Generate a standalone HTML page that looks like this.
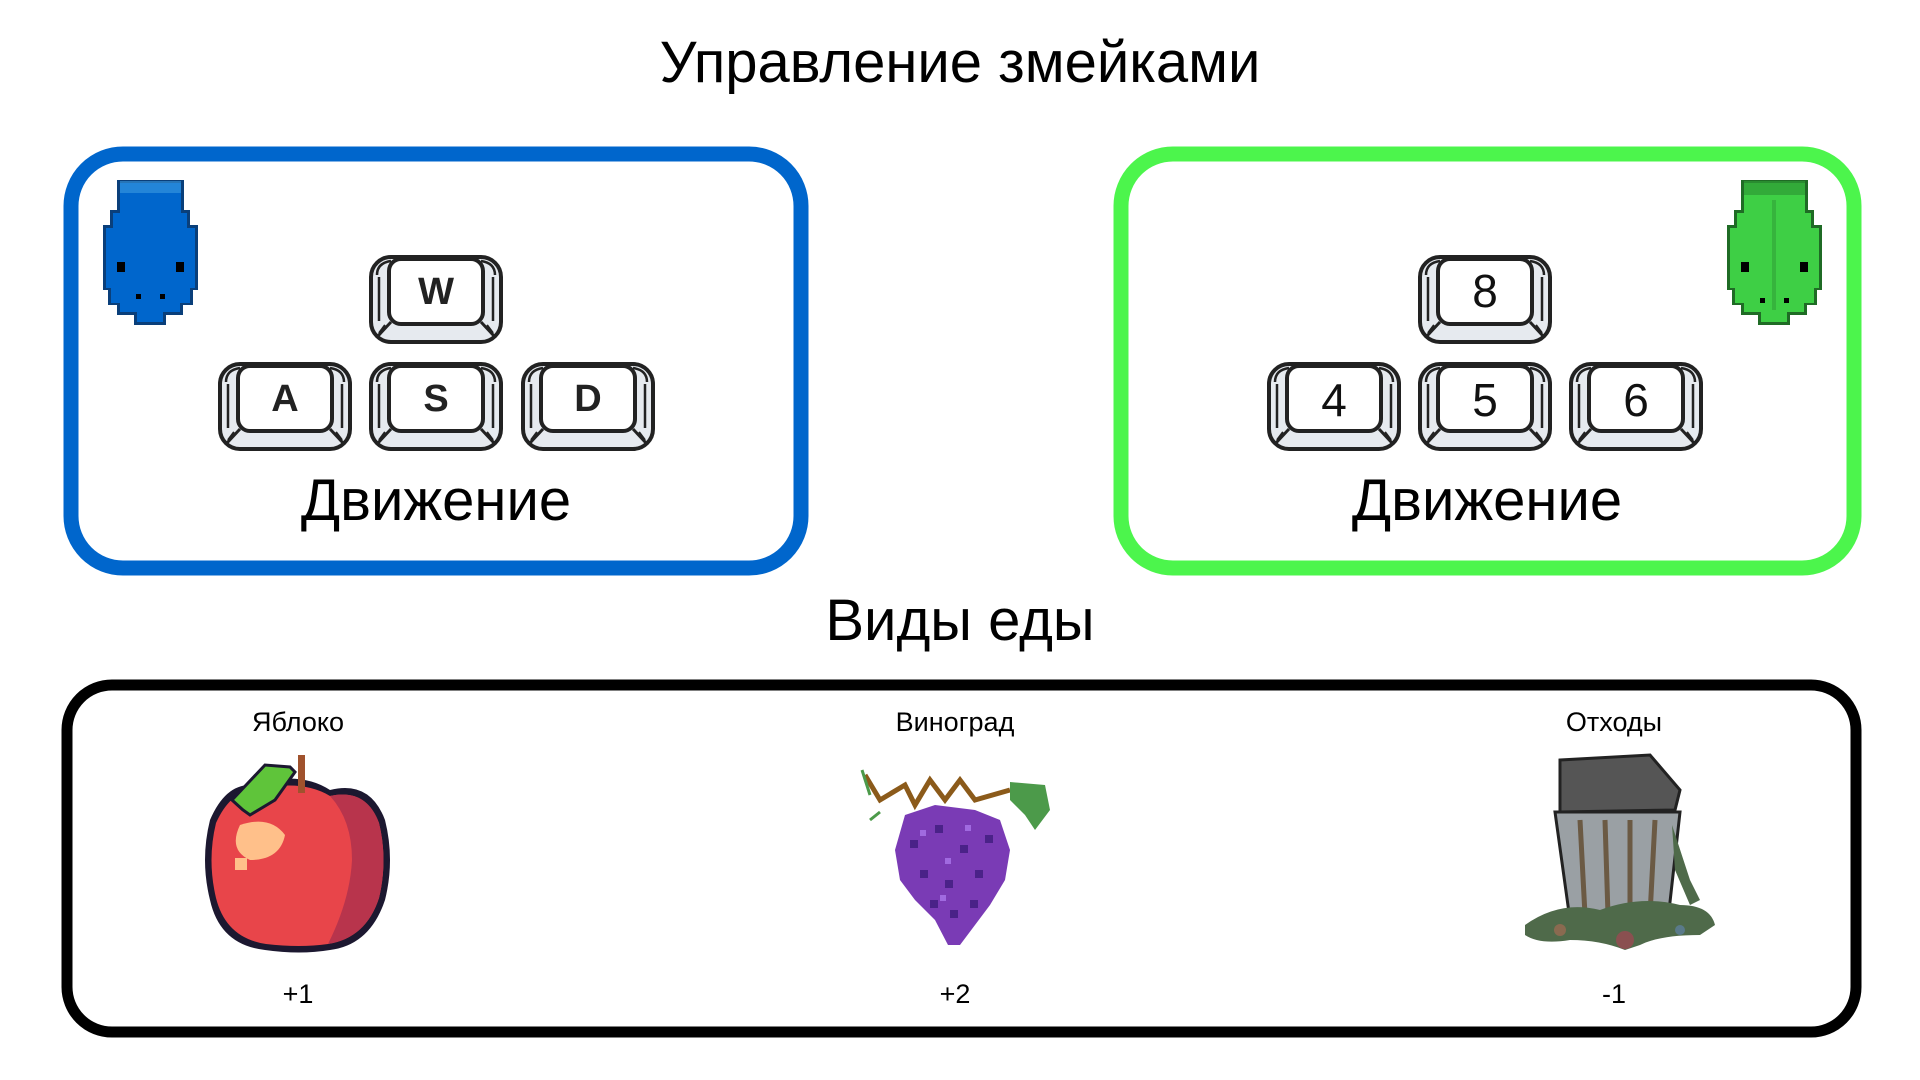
<!DOCTYPE html>
<html><head><meta charset="utf-8"><style>
html,body{margin:0;padding:0;background:#fff;width:1920px;height:1080px;overflow:hidden}
svg{display:block}
text{font-family:"Liberation Sans",Arial,sans-serif}
</style></head><body>
<svg width="1920" height="1080" viewBox="0 0 1920 1080" xmlns="http://www.w3.org/2000/svg">
<defs>
<g id="key">
<rect x="2" y="2" width="130" height="85" rx="20" fill="#e6eaef" stroke="#222" stroke-width="4"/>
<path d="M8 20 Q8 8 22 6" fill="none" stroke="#222" stroke-width="2.5"/>
<path d="M126 20 Q126 8 112 6" fill="none" stroke="#222" stroke-width="2.5"/>
<line x1="10" y1="66" x2="10" y2="22" stroke="#222" stroke-width="2.5"/>
<line x1="124" y1="66" x2="124" y2="22" stroke="#222" stroke-width="2.5"/>
<rect x="20" y="4" width="94" height="65" rx="12" fill="#fff" stroke="#222" stroke-width="4"/>
<line x1="22" y1="67" x2="8" y2="82" stroke="#222" stroke-width="3"/>
<line x1="112" y1="67" x2="126" y2="82" stroke="#222" stroke-width="3"/>
<line x1="16" y1="70" x2="10" y2="78" stroke="#222" stroke-width="2"/>
<line x1="118" y1="70" x2="124" y2="78" stroke="#222" stroke-width="2"/>
</g>
<path id="snakeOuter" d="M117 180 H184 V210 H190 V225 H198 V290 H193 V305 H183 V315 H166 V325 H134 V315 H117 V305 H108 V290 H103 V225 H110 V210 H117 Z"/>
<path id="snakeInner" d="M120 183 H181 V213 H187 V228 H195 V288 H190 V303 H180 V312 H163 V322 H137 V312 H120 V303 H111 V288 H106 V228 H113 V213 H120 Z"/>
</defs>

<text x="960" y="82" font-size="58" text-anchor="middle">Управление змейками</text>

<rect x="71" y="154" width="730" height="414" rx="52" fill="#fff" stroke="#0066cc" stroke-width="15"/>
<rect x="1121" y="154" width="733" height="414" rx="52" fill="#fff" stroke="#4cf54c" stroke-width="15"/>

<!-- blue snake -->
<g>
<use href="#snakeOuter" fill="#0a3f7a"/>
<use href="#snakeInner" fill="#0066cc"/>
<rect x="120" y="181" width="61" height="12" fill="#3a9ae0" opacity=".6"/>
<rect x="117" y="262" width="8" height="10" fill="#000"/>
<rect x="176" y="262" width="8" height="10" fill="#000"/>
<rect x="136" y="294" width="5" height="5" fill="#000"/><rect x="160" y="294" width="5" height="5" fill="#000"/>
</g>
<!-- green snake -->
<g transform="translate(1624,0)">
<use href="#snakeOuter" fill="#1f6b25"/>
<use href="#snakeInner" fill="#3ecf45"/>
<rect x="120" y="181" width="61" height="14" fill="#2e9a35" opacity=".7"/>
<rect x="148" y="200" width="4" height="110" fill="#2e9a35" opacity=".5"/>
<rect x="117" y="262" width="8" height="10" fill="#000"/>
<rect x="176" y="262" width="8" height="10" fill="#000"/>
<rect x="136" y="298" width="5" height="5" fill="#000"/><rect x="160" y="298" width="5" height="5" fill="#000"/>
</g>

<use href="#key" x="369" y="255"/>
<use href="#key" x="218" y="362"/>
<use href="#key" x="369" y="362"/>
<use href="#key" x="521" y="362"/>
<g font-size="38" font-weight="bold" text-anchor="middle" fill="#222">
<text x="436" y="304">W</text>
<text x="285" y="411">A</text>
<text x="436" y="411">S</text>
<text x="588" y="411">D</text>
</g>
<use href="#key" x="1418" y="255"/>
<use href="#key" x="1267" y="362"/>
<use href="#key" x="1418" y="362"/>
<use href="#key" x="1569" y="362"/>
<g font-size="46" text-anchor="middle" fill="#111">
<text x="1485" y="307">8</text>
<text x="1334" y="416">4</text>
<text x="1485" y="416">5</text>
<text x="1636" y="416">6</text>
</g>

<text x="436" y="520" font-size="58" text-anchor="middle">Движение</text>
<text x="1487" y="520" font-size="58" text-anchor="middle">Движение</text>

<text x="960" y="640" font-size="58" text-anchor="middle">Виды еды</text>

<rect x="67" y="685" width="1789" height="347" rx="45" fill="#fff" stroke="#000" stroke-width="11"/>

<g font-size="27" text-anchor="middle">
<text x="298" y="731">Яблоко</text>
<text x="955" y="731">Виноград</text>
<text x="1614" y="731">Отходы</text>
<text x="298" y="1003">+1</text>
<text x="955" y="1003">+2</text>
<text x="1614" y="1003">-1</text>
</g>

<!-- apple -->
<g>
<path d="M250 785 Q300 770 330 790 Q370 780 385 820 Q395 860 385 900 Q370 945 330 950 Q300 955 265 950 Q220 945 210 900 Q200 860 210 820 Q225 785 250 785 Z" fill="#1c1830"/>
<path d="M252 791 Q300 778 330 796 Q366 788 379 823 Q388 860 379 898 Q366 938 328 944 Q300 948 266 944 Q226 938 216 898 Q207 860 216 823 Q230 792 252 791 Z" fill="#e8454a"/>
<path d="M330 796 Q366 788 379 823 Q388 860 379 898 Q366 938 328 944 Q350 900 352 860 Q352 820 330 796Z" fill="#b8344c"/>
<path d="M240 825 Q270 815 285 835 Q280 860 250 860 Q228 850 240 825Z" fill="#ffc08a"/>
<rect x="235" y="858" width="12" height="12" fill="#ffc08a"/>
<path d="M243 810 L232 800 L265 765 L290 767 L295 772 L275 800 L250 815Z" fill="#5fc43a" stroke="#1c1830" stroke-width="3"/>
<rect x="298" y="755" width="7" height="38" fill="#a0522d"/>
</g>

<!-- grapes -->
<g>
<path d="M865 775 L880 800 L905 785 L915 805 L930 780 L945 800 L960 780 L975 800 L1010 790" fill="none" stroke="#8b5a1a" stroke-width="5"/>
<path d="M1010 782 L1045 785 L1050 810 L1035 830 L1025 815 L1010 800Z" fill="#4c9a4a"/>
<path d="M862 770 L870 795 M870 820 L880 812" stroke="#4c9a4a" stroke-width="3" fill="none"/>
<path d="M905 815 L935 805 L975 810 L1000 820 L1010 850 L1005 880 L990 905 L975 925 L960 945 L948 945 L935 920 L915 900 L900 880 L895 850 Z" fill="#7a3bb5"/>
<g fill="#4a2288">
<rect x="910" y="840" width="8" height="8"/><rect x="935" y="825" width="8" height="8"/><rect x="960" y="845" width="8" height="8"/><rect x="985" y="835" width="8" height="8"/>
<rect x="920" y="870" width="8" height="8"/><rect x="945" y="880" width="8" height="8"/><rect x="975" y="870" width="8" height="8"/><rect x="950" y="910" width="8" height="8"/><rect x="930" y="900" width="8" height="8"/><rect x="970" y="900" width="8" height="8"/>
</g>
<g fill="#a06ae0"><rect x="920" y="830" width="6" height="6"/><rect x="945" y="858" width="6" height="6"/><rect x="965" y="825" width="6" height="6"/><rect x="940" y="895" width="6" height="6"/></g>
</g>

<!-- trash -->
<g>
<path d="M1560 760 L1650 755 L1680 790 L1675 810 L1560 812 Z" fill="#555" stroke="#222" stroke-width="3"/>
<path d="M1555 812 L1680 812 L1668 920 L1570 920 Z" fill="#9aa0a4" stroke="#222" stroke-width="3"/>
<path d="M1580 820 L1585 915 M1605 820 L1608 915 M1630 820 L1630 915 M1655 820 L1650 915" stroke="#6b5a44" stroke-width="5"/>
<path d="M1525 925 Q1560 900 1600 910 Q1640 895 1680 905 Q1710 905 1715 925 L1700 935 Q1660 935 1640 945 L1625 950 Q1600 940 1570 940 Q1540 945 1525 935 Z" fill="#4f6a4a"/>
<circle cx="1625" cy="940" r="9" fill="#8a5050"/>
<circle cx="1560" cy="930" r="6" fill="#8a6a50"/>
<circle cx="1680" cy="930" r="5" fill="#5a7a8a"/>
<path d="M1672 825 L1690 880 L1700 900 L1690 905 L1675 870Z" fill="#4f6a4a"/>
</g>
</svg>
</body></html>
